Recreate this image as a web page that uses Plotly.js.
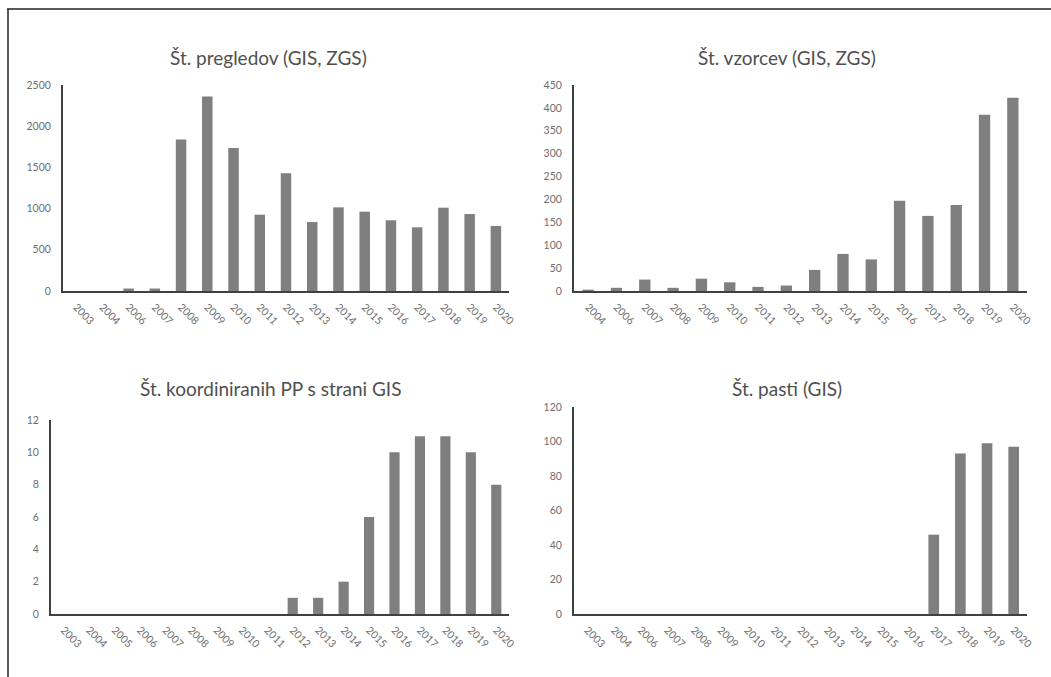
<!DOCTYPE html>
<html><head><meta charset="utf-8">
<script src="https://cdn.plot.ly/plotly-3.0.1.min.js"></script>
<style>html,body{margin:0;padding:0;background:#fff;}#chart{width:1051px;height:677px;}</style>
</head><body><div id="chart"></div>
<script>
// Panel 1: Št. pregledov (GIS, ZGS)
const years1 = ['2003','2004','2006','2007','2008','2009','2010','2011','2012','2013','2014','2015','2016','2017','2018','2019','2020'];
const pregledi = [0,0,30,30,1840,2360,1735,926,1428,837,1015,963,858,773,1011,934,789];
// Panel 2: Št. vzorcev (GIS, ZGS)
const years2 = ['2004','2006','2007','2008','2009','2010','2011','2012','2013','2014','2015','2016','2017','2018','2019','2020'];
const vzorci = [3,7,25,7,27,19,9,12,46,81,69,197,164,188,385,422];
// Panel 3: Št. koordiniranih PP s strani GIS
const years3 = ['2003','2004','2005','2006','2007','2008','2009','2010','2011','2012','2013','2014','2015','2016','2017','2018','2019','2020'];
const koordinirani = [0,0,0,0,0,0,0,0,0,1,1,2,6,10,11,11,10,8];
// Panel 4: Št. pasti (GIS)
const years4 = ['2003','2004','2006','2007','2008','2009','2010','2011','2012','2013','2014','2015','2016','2017','2018','2019','2020'];
const pasti = [0,0,0,0,0,0,0,0,0,0,0,0,0,46,93,99,97];

const titles = ['Št. pregledov (GIS, ZGS)','Št. vzorcev (GIS, ZGS)','Št. koordiniranih PP s strani GIS','Št. pasti (GIS)'];

const W = 1051, H = 677;
const barColor = '#7f7f7f';
function bar(x, y, ax){
  return {type:'bar', x:x, y:y, xaxis:'x'+ax, yaxis:'y'+ax, marker:{color:barColor}, hoverinfo:'x+y', showlegend:false};
}
const data = [bar(years1,pregledi,''), bar(years2,vzorci,'2'), bar(years3,koordinirani,'3'), bar(years4,pasti,'4')];

const px = v => v/W, py = v => 1 - v/H;
const tickFont = {family:'Lato, "Open Sans", sans-serif', size:10.5, color:'#6e6e6e'};
function xa(l,r,anchor){
  return {domain:[px(l),px(r)], type:'category', anchor:anchor, showline:true, linecolor:'#404040', linewidth:2,
    showgrid:false, zeroline:false, ticks:'', tickangle:45, tickfont:tickFont, ticklabelstandoff:4, fixedrange:true};
}
function ya(b,t,range,dtick,anchor){
  return {domain:[py(b),py(t)], range:range, dtick:dtick, anchor:anchor, showline:true, linecolor:'#404040', linewidth:2,
    showgrid:false, zeroline:false, ticks:'', tickfont:tickFont, ticklabelstandoff:8, fixedrange:true};
}
const titleFont = {family:'Lato, "Open Sans", sans-serif', size:19, color:'#505050'};
function ann(text,x,y){
  return {text:text, xref:'paper', yref:'paper', x:px(x), y:py(y), xanchor:'center', yanchor:'middle', showarrow:false, font:titleFont};
}
const layout = {
  width:W, height:H, margin:{l:0,r:0,t:0,b:0}, paper_bgcolor:'#fff', plot_bgcolor:'rgba(0,0,0,0)',
  bargap:0.6, showlegend:false,
  xaxis: xa(63,509,'y'), yaxis: ya(291,85,[0,2500],500,'x'),
  xaxis2: xa(574,1027,'y2'), yaxis2: ya(291,85,[0,450],50,'x2'),
  xaxis3: xa(51,509,'y3'), yaxis3: ya(614,420,[0,12],2,'x3'),
  xaxis4: xa(574,1027,'y4'), yaxis4: ya(614,407,[0,120],20,'x4'),
  annotations:[ann(titles[0],268,57), ann(titles[1],787,57), ann(titles[2],270,388), ann(titles[3],787,388)],
  shapes:[
    {type:'line', xref:'paper', yref:'paper', x0:px(7), x1:1, y0:py(9), y1:py(9), line:{color:'#222', width:1.5}},
    {type:'line', xref:'paper', yref:'paper', x0:px(8), x1:px(8), y0:py(9), y1:0, line:{color:'#222', width:1.5}}
  ]
};
Plotly.newPlot('chart', data, layout, {displayModeBar:false, staticPlot:true});
</script></body></html>
